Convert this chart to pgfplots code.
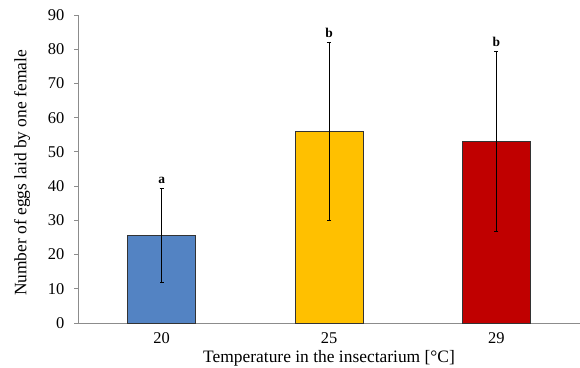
\documentclass[border=0pt]{standalone}
\usepackage{pgfplots}
\pgfplotsset{compat=1.18}
\usetikzlibrary{calc}
\usepackage{fontspec}
\setmainfont{Liberation Serif}
\definecolor{cblue}{HTML}{5383C3}
\definecolor{cyellow}{HTML}{FFC000}
\definecolor{cred}{HTML}{C00000}
\definecolor{axgray}{HTML}{8C8C8C}
\begin{document}
\begin{tikzpicture}
\begin{axis}[
  name=ax,
  scale only axis,
  width=502bp, height=308bp,
  xmin=-0.5, xmax=2.5,
  ymin=0, ymax=90,
  ytick={0,10,...,90},
  xtick={0,1,2},
  xticklabels={20,25,29},
  extra x ticks={0.5,1.5},
  extra x tick labels={},
  extra x tick style={major tick length=3.5bp, tick style={axgray, line width=0.8pt}},
  axis x line*=bottom,
  axis y line*=left,
  axis line style={axgray, line width=0.8pt},
  tick align=outside,
  xtick style={draw=none},
  ytick style={axgray, line width=0.8pt},
  major tick length=3.5bp,
  /pgf/number format/assume math mode=true,
  tick label style={font=\fontsize{16.5}{19}\selectfont},
  yticklabel style={anchor=east, inner sep=0pt, xshift=-10bp},
  xticklabel style={anchor=base, inner sep=0pt, yshift=-16.5bp},
  every axis x label/.style={at={(axis description cs:0.5,0)}, yshift=-39bp, anchor=base, inner sep=0pt, font=\fontsize{17.5}{20}\selectfont},
  every axis y label/.style={at={(axis description cs:0,0.5)}, xshift=-64bp, yshift=-4bp, rotate=90, anchor=north, inner sep=0pt, font=\fontsize{17.5}{20}\selectfont},
  xlabel={Temperature in the insectarium [\textdegree C]},
  ylabel={Number of eggs laid by one female},
  clip=false,
]
\addplot[ybar, bar width=68bp, bar shift=0pt, fill=cblue, draw=black!80, line width=0.6pt,
  error bars/.cd, y dir=both, y explicit, error bar style={black, line width=0.8pt}, error mark options={rotate=90, mark size=2bp, black, line width=0.8pt}]
  coordinates {(0,25.7) +- (0,13.7)};
\addplot[ybar, bar width=68bp, bar shift=0pt, fill=cyellow, draw=black!80, line width=0.6pt,
  error bars/.cd, y dir=both, y explicit, error bar style={black, line width=0.8pt}, error mark options={rotate=90, mark size=2bp, black, line width=0.8pt}]
  coordinates {(1,56.1) +- (0,26.0)};
\addplot[ybar, bar width=68bp, bar shift=0pt, fill=cred, draw=black!80, line width=0.6pt,
  error bars/.cd, y dir=both, y explicit, error bar style={black, line width=0.8pt}, error mark options={rotate=90, mark size=2bp, black, line width=0.8pt}]
  coordinates {(2,53.2) +- (0,26.3)};
\addplot[only marks, mark=none, nodes near coords, point meta=explicit symbolic,
  nodes near coords style={font=\fontsize{13.5}{15}\selectfont\bfseries, anchor=base, inner sep=0pt, yshift=4.5bp}]
  coordinates {(0,39.4) [a] (1,82.1) [b] (2,79.5) [b]};
\end{axis}
\pgfresetboundingbox
\path[use as bounding box] ($(ax.south west)+(-78bp,-45bp)$) rectangle ++(580bp,368bp);
\end{tikzpicture}
\end{document}
